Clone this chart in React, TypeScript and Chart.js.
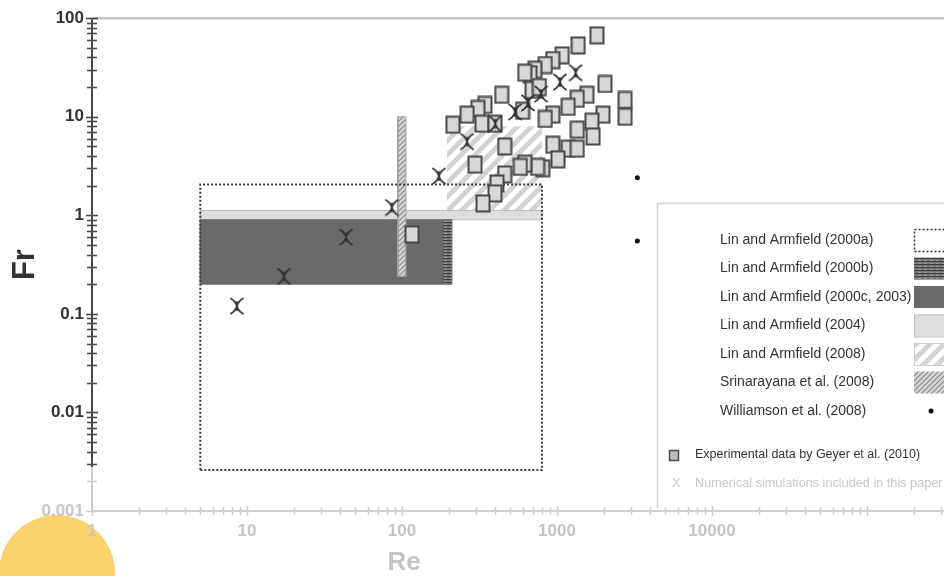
import React, { useEffect, useRef } from 'react';
import { Chart, registerables } from 'chart.js';

Chart.register(...registerables);

const FONT = '"Liberation Sans", Arial, Helvetica, sans-serif';

// Axis ticks / labels
const xTickValues = [1, 10, 100, 1000, 10000];
const xTickLabels = ['1', '10', '100', '1000', '10000'];
const yTickValues = [0.001, 0.01, 0.1, 1, 10, 100];
const yTickLabels = ['0.001', '0.01', '0.1', '1', '10', '100'];

// Legend entries
const legendLabels = [
  'Lin and Armfield (2000a)',
  'Lin and Armfield (2000b)',
  'Lin and Armfield (2000c, 2003)',
  'Lin and Armfield (2004)',
  'Lin and Armfield (2008)',
  'Srinarayana et al. (2008)',
  'Williamson et al. (2008)',
];
const geyerLabel = 'Experimental data by Geyer et al. (2010)';
const simLabel = 'Numerical simulations included in this paper';

// Parameter regions [min, max] in Re and Fr
const la2000aRe = [5, 800];
const la2000aFr = [0.0026, 2.05];
const la2000bRe = [184, 210];
const la2000bFr = [0.2, 0.9];
const la2000cRe = [5, 210];
const la2000cFr = [0.2, 0.9];
const la2004Re = [5, 800];
const la2004Fr = [0.9, 1.12];
const la2008Re = [195, 800];
const la2008Fr = [1.12, 8];
const srinRe = [94, 106];
const srinFr = [0.24, 10];

// Williamson et al. (2008) points
const williamsonRe = [3300, 3300];
const williamsonFr = [2.4, 0.55];

// Experimental data by Geyer et al. (2010)
const geyerRe = [
  1810, 1370, 1080, 940, 840, 720, 670, 620, 690, 770, 440, 343, 309, 263, 213, 328, 398, 600,
  2040, 1560, 1350, 1180, 2750, 2750, 1980, 1680, 940, 840, 1710, 1350, 1180, 1350, 940, 1015,
  810, 750, 620, 580, 460, 296, 460, 410, 398, 333, 116,
];
const geyerFr = [
  67, 53, 42, 37.6, 33.5, 30, 27, 28, 18.7, 20, 16.7, 13.2, 12, 10.5, 8.3, 8.5, 8.5, 11.5,
  21.5, 16.7, 15.2, 12.6, 14.8, 10, 10.5, 8.9, 10.5, 9.5, 6.3, 7.4, 4.75, 4.75, 5.2, 3.7,
  3.0, 3.1, 3.35, 3.1, 5.0, 3.27, 2.6, 2.1, 1.67, 1.32, 0.64,
];

// Numerical simulations
const simRe = [8.6, 17.3, 43.5, 86, 173, 263, 400, 536, 650, 790, 1046, 1320];
const simFr = [0.12, 0.24, 0.6, 1.2, 2.5, 5.6, 8.5, 11.2, 13.8, 17, 22.5, 28];

const rectPts = (re: number[], fr: number[]) => [
  { x: re[0], y: fr[0] },
  { x: re[1], y: fr[0] },
  { x: re[1], y: fr[1] },
  { x: re[0], y: fr[1] },
  { x: re[0], y: fr[0] },
];
const pts = (re: number[], fr: number[]) => re.map((x, i) => ({ x, y: fr[i] }));

function makeTile(w: number, h: number, draw: (g: CanvasRenderingContext2D) => void) {
  const c = document.createElement('canvas');
  c.width = w;
  c.height = h;
  const g = c.getContext('2d') as CanvasRenderingContext2D;
  draw(g);
  return c;
}

function makePatterns(ctx: CanvasRenderingContext2D) {
  const stripes = makeTile(14, 14, (g) => {
    g.fillStyle = '#ffffff';
    g.fillRect(0, 0, 14, 14);
    g.strokeStyle = '#d3d3d3';
    g.lineWidth = 5;
    g.beginPath();
    for (const o of [-14, 0, 14]) {
      g.moveTo(o - 2, 16);
      g.lineTo(o + 16, -2);
    }
    g.stroke();
  });
  const hatch = makeTile(5, 5, (g) => {
    g.fillStyle = '#d6d6d6';
    g.fillRect(0, 0, 5, 5);
    g.strokeStyle = '#8a8a8a';
    g.lineWidth = 1.2;
    g.beginPath();
    for (const o of [-5, 0, 5]) {
      g.moveTo(o - 1, 6);
      g.lineTo(o + 6, -1);
    }
    g.stroke();
  });
  const hlines = makeTile(6, 3, (g) => {
    g.fillStyle = '#777777';
    g.fillRect(0, 0, 6, 3);
    g.fillStyle = '#3e3e3e';
    g.fillRect(0, 0, 6, 1);
    g.fillStyle = '#999999';
    g.fillRect(0, 2, 3, 1);
  });
  return {
    stripes: ctx.createPattern(stripes, 'repeat') as CanvasPattern,
    hatch: ctx.createPattern(hatch, 'repeat') as CanvasPattern,
    hlines: ctx.createPattern(hlines, 'repeat') as CanvasPattern,
  };
}

function makeSquare() {
  return makeTile(16, 19, (g) => {
    g.fillStyle = '#d8d8d8';
    g.fillRect(1.5, 1.5, 13, 16);
    g.strokeStyle = '#474747';
    g.lineWidth = 2;
    g.strokeRect(1.5, 1.5, 13, 16);
  });
}

function makeStar() {
  return makeTile(16, 18, (g) => {
    g.strokeStyle = '#333333';
    g.lineWidth = 1.8;
    g.lineCap = 'round';
    g.beginPath();
    g.moveTo(8, 9);
    g.quadraticCurveTo(6.5, 4, 2, 1.5);
    g.moveTo(8, 9);
    g.quadraticCurveTo(9.5, 4, 14, 1.5);
    g.moveTo(8, 9);
    g.quadraticCurveTo(6.5, 14, 2, 16.5);
    g.moveTo(8, 9);
    g.quadraticCurveTo(9.5, 14, 14, 16.5);
    g.moveTo(8, 5);
    g.lineTo(8, 13);
    g.stroke();
  });
}

export default function App() {
  const ref = useRef<HTMLCanvasElement | null>(null);

  useEffect(() => {
    const canvas = ref.current;
    if (!canvas) return;
    const ctx0 = canvas.getContext('2d') as CanvasRenderingContext2D;
    const pat = makePatterns(ctx0);
    const squareImg = makeSquare();
    const starImg = makeStar();

    const decor = {
      id: 'decor',
      beforeDraw(chart: any) {
        const ctx = chart.ctx as CanvasRenderingContext2D;
        ctx.save();
        ctx.fillStyle = '#ffffff';
        ctx.fillRect(0, 0, chart.width, chart.height);
        ctx.fillStyle = '#FBD36C';
        ctx.beginPath();
        ctx.arc(57, 573, 58, 0, Math.PI * 2);
        ctx.fill();
        ctx.restore();
      },
      afterDraw(chart: any) {
        const ctx = chart.ctx as CanvasRenderingContext2D;
        const ca = chart.chartArea;
        const xs = chart.scales.x;
        const ys = chart.scales.y;
        ctx.save();
        // top frame line
        ctx.strokeStyle = '#c4c4c4';
        ctx.lineWidth = 2.5;
        ctx.beginPath();
        ctx.moveTo(ca.left, ca.top);
        ctx.lineTo(chart.width, ca.top);
        ctx.stroke();

        // x axis
        ctx.strokeStyle = '#cfcfcf';
        ctx.lineWidth = 2;
        ctx.beginPath();
        ctx.moveTo(ca.left, ca.bottom);
        ctx.lineTo(chart.width, ca.bottom);
        ctx.stroke();
        ctx.lineWidth = 1.5;
        ctx.beginPath();
        for (let e = 0; e <= 5; e++) {
          for (let m = 1; m <= 9; m++) {
            const v = m * Math.pow(10, e);
            if (v > xs.max) break;
            const px = Math.round(xs.getPixelForValue(v)) + 0.5;
            const h = m === 1 ? 5 : 4;
            ctx.moveTo(px, ca.bottom - h);
            ctx.lineTo(px, ca.bottom + h);
          }
        }
        ctx.stroke();

        // y axis
        const yFade = ys.getPixelForValue(0.0028);
        ctx.lineWidth = 2;
        ctx.strokeStyle = '#484848';
        ctx.beginPath();
        ctx.moveTo(ca.left, ca.top);
        ctx.lineTo(ca.left, yFade);
        ctx.stroke();
        ctx.strokeStyle = '#d0d0d0';
        ctx.beginPath();
        ctx.moveTo(ca.left, yFade);
        ctx.lineTo(ca.left, ca.bottom);
        ctx.stroke();
        ctx.lineWidth = 1.6;
        for (let e = -3; e <= 2; e++) {
          for (let m = 1; m <= 9; m++) {
            const v = m * Math.pow(10, e);
            if (v > ys.max * 1.0001) break;
            const py = Math.round(ys.getPixelForValue(v)) + 0.5;
            const h = m === 1 ? 6 : 5;
            ctx.strokeStyle = v >= 0.0029 ? '#484848' : '#d0d0d0';
            ctx.beginPath();
            ctx.moveTo(ca.left - h, py);
            ctx.lineTo(ca.left + h, py);
            ctx.stroke();
          }
        }

        // x title
        ctx.fillStyle = '#c4c4c4';
        ctx.font = `bold 26px ${FONT}`;
        ctx.textAlign = 'center';
        ctx.textBaseline = 'middle';
        ctx.fillText('Re', 404, 563);

        // legend box
        const bx = 657.5;
        const by = 203.5;
        ctx.fillStyle = '#ffffff';
        ctx.fillRect(bx, by, chart.width - bx, 300);
        ctx.strokeStyle = '#d2d2d2';
        ctx.lineWidth = 1.5;
        ctx.beginPath();
        ctx.moveTo(bx, 508);
        ctx.lineTo(bx, by);
        ctx.lineTo(chart.width, by);
        ctx.stroke();

        ctx.textAlign = 'left';
        ctx.textBaseline = 'middle';
        ctx.font = `14px ${FONT}`;
        const rowY = (i: number) => 240 + i * 28.5;
        legendLabels.forEach((t, i) => {
          ctx.fillStyle = '#333333';
          ctx.fillText(t, 720, rowY(i));
        });
        const sx = 914;
        const sw = 40;
        const sh = 22;
        const sy = (i: number) => rowY(i) - sh / 2;
        // 2000a: dotted box
        ctx.setLineDash([2, 2]);
        ctx.strokeStyle = '#333';
        ctx.lineWidth = 1.5;
        ctx.strokeRect(sx + 0.5, sy(0) + 0.5, sw, sh);
        ctx.setLineDash([]);
        // 2000b
        ctx.fillStyle = pat.hlines;
        ctx.fillRect(sx, sy(1), sw, sh);
        // 2000c
        ctx.fillStyle = '#6a6a6a';
        ctx.fillRect(sx, sy(2), sw, sh);
        // 2004
        ctx.fillStyle = '#dedede';
        ctx.fillRect(sx, sy(3), sw, sh);
        ctx.strokeStyle = '#bdbdbd';
        ctx.lineWidth = 1;
        ctx.strokeRect(sx + 0.5, sy(3) + 0.5, sw, sh);
        // 2008
        ctx.fillStyle = pat.stripes;
        ctx.fillRect(sx, sy(4), sw, sh);
        ctx.strokeStyle = '#cfcfcf';
        ctx.strokeRect(sx + 0.5, sy(4) + 0.5, sw, sh);
        // Srinarayana
        ctx.fillStyle = pat.hatch;
        ctx.fillRect(sx, sy(5), sw, sh);
        // Williamson dot
        ctx.fillStyle = '#111';
        ctx.beginPath();
        ctx.arc(931, rowY(6), 2.5, 0, Math.PI * 2);
        ctx.fill();

        // Geyer entry
        ctx.fillStyle = '#bdbdbd';
        ctx.fillRect(669.5, 450.5, 9, 10);
        ctx.strokeStyle = '#4a4a4a';
        ctx.lineWidth = 1.5;
        ctx.strokeRect(669.5, 450.5, 9, 10);
        ctx.fillStyle = '#333333';
        ctx.font = `12.5px ${FONT}`;
        ctx.fillText(geyerLabel, 695, 455);
        // Simulation entry
        ctx.fillStyle = '#c8c8c8';
        ctx.font = `13px ${FONT}`;
        ctx.fillText('X', 672, 483);
        ctx.font = `12.7px ${FONT}`;
        ctx.fillText(simLabel, 695, 483);
        ctx.restore();
      },
    };

    const region = (data: any[], bg: any, border: string, bw: number, order: number, extra: any = {}) => ({
      type: 'line',
      data,
      order,
      showLine: true,
      fill: bg ? 'shape' : false,
      backgroundColor: bg || 'rgba(0,0,0,0)',
      borderColor: border,
      borderWidth: bw,
      pointRadius: 0,
      pointHoverRadius: 0,
      tension: 0,
      ...extra,
    });

    const chart = new Chart(canvas, {
      type: 'scatter',
      data: {
        datasets: [
          {
            label: simLabel,
            data: pts(simRe, simFr),
            order: 0,
            pointStyle: starImg,
            pointRadius: 8,
            pointHoverRadius: 8,
          } as any,
          {
            label: geyerLabel,
            data: pts(geyerRe, geyerFr),
            order: 1,
            pointStyle: squareImg,
            pointRadius: 8,
            pointHoverRadius: 8,
          } as any,
          {
            label: legendLabels[6],
            data: pts(williamsonRe, williamsonFr),
            order: 2,
            pointStyle: 'circle',
            pointRadius: 2.5,
            backgroundColor: '#111',
            borderColor: '#111',
            borderWidth: 0,
          } as any,
          region(rectPts(la2000aRe, la2000aFr), null, '#3a3a3a', 2, 3, { borderDash: [2, 2] }),
          region(rectPts(srinRe, srinFr), pat.hatch, '#a0a0a0', 1, 4),
          region(rectPts(la2000bRe, la2000bFr), pat.hlines, '#6a6a6a', 0, 5),
          region(rectPts(la2000cRe, la2000cFr), '#6a6a6a', '#6a6a6a', 1, 6),
          region(rectPts(la2004Re, la2004Fr), '#dedede', '#bdbdbd', 1, 7),
          region(rectPts(la2008Re, la2008Fr), pat.stripes, 'rgba(0,0,0,0)', 0, 8),
        ] as any,
      },
      options: {
        animation: false,
        responsive: false,
        devicePixelRatio: 1,
        layout: { autoPadding: false, padding: { top: 16, right: 0, bottom: 0, left: 0 } },
        plugins: {
          legend: { display: false },
          tooltip: { enabled: false },
        },
        scales: {
          x: {
            type: 'logarithmic',
            min: 1,
            max: 314000,
            afterBuildTicks: (s: any) => {
              s.ticks = xTickValues.map((v) => ({ value: v }));
            },
            afterFit: (s: any) => {
              s.height = 65;
              s.paddingLeft = 0;
              s.paddingRight = 0;
            },
            grid: { display: false, drawTicks: false },
            border: { display: false },
            ticks: {
              autoSkip: false,
              maxRotation: 0,
              padding: 10,
              color: '#c4c4c4',
              font: { family: FONT, size: 17, weight: 'bold' },
              callback: (_v: any, i: number) => xTickLabels[i],
            },
          },
          y: {
            type: 'logarithmic',
            min: 0.001,
            max: 100,
            afterBuildTicks: (s: any) => {
              s.ticks = yTickValues.map((v) => ({ value: v }));
            },
            afterFit: (s: any) => {
              s.width = 92;
            },
            grid: { display: false, drawTicks: false },
            border: { display: false },
            ticks: {
              autoSkip: false,
              padding: 8,
              color: (c: any) => (c.index === 0 ? '#c6c6c6' : '#333333'),
              font: { family: FONT, size: 17, weight: 'bold' },
              callback: (_v: any, i: number) => yTickLabels[i],
            },
            title: {
              display: true,
              text: 'Fr',
              color: '#333333',
              font: { family: FONT, size: 31, weight: 'bold' },
              padding: { top: 7, bottom: 0 },
            },
          },
        },
      } as any,
      plugins: [decor],
    });

    return () => chart.destroy();
  }, []);

  return (
    <div style={{ position: 'absolute', left: 0, top: 0, width: 944, height: 576, background: '#fff' }}>
      <canvas ref={ref} width={944} height={576} style={{ display: 'block', width: 944, height: 576 }} />
    </div>
  );
}
